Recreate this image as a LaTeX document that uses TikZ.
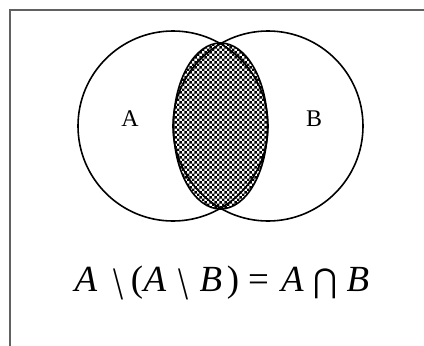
\documentclass[tikz,border=0pt]{standalone}
\usepackage{fontspec}
\setmainfont{Liberation Serif}
\newfontfamily\opfont{DejaVu Sans}
\usetikzlibrary{patterns}
\pgfdeclarepatternformonly{mychecker}{\pgfpointorigin}{\pgfqpoint{5.4bp}{5.4bp}}{\pgfqpoint{5.4bp}{5.4bp}}{%
  \pgfpathrectangle{\pgfpointorigin}{\pgfqpoint{2.7bp}{2.7bp}}%
  \pgfpathrectangle{\pgfqpoint{2.7bp}{2.7bp}}{\pgfqpoint{2.7bp}{2.7bp}}%
  \pgfusepath{fill}}
\tikzset{
  frameline/.style={draw=black!62, line width=1.6bp},
  setline/.style={draw=black, line width=1.6bp},
  lbl/.style={inner sep=0pt, anchor=base, font=\fontsize{24}{26}\selectfont},
  eqg/.style={inner sep=0pt, anchor=base, font=\fontsize{37}{40}\selectfont},
  eqs/.style={inner sep=0pt, anchor=center},
}
\begin{document}
\begin{tikzpicture}[x=1bp,y=-1bp]
\useasboundingbox (0,0) rectangle (424,346);
\fill[white] (0,0) rectangle (424,346);
\draw[frameline] (10,346) -- (10,10) -- (424,10);
\draw[setline] (173,126) circle[radius=95];
\draw[setline] (268,126) circle[radius=95];
\filldraw[setline, pattern=mychecker] (220.5,126) ellipse[x radius=47, y radius=83];
\node[lbl] (la) at (130,126) {A};
\node[lbl] (lb) at (314,126) {B};
\node[eqg] (e1) at (86,291) {\textit{A}};
\node[eqs] (e2) at (119,284) {\resizebox*{10bp}{31bp}{\textbackslash}};
\node[eqg] (e3) at (137,291) {(};
\node[eqg] (e4) at (155,291) {\textit{A}};
\node[eqs] (e5) at (184,284) {\resizebox*{10bp}{31bp}{\textbackslash}};
\node[eqg] (e6) at (211,291) {\textit{B}};
\node[eqg] (e7) at (233,291) {)};
\node[eqg] (e8) at (258.5,291) {=};
\node[eqg] (e9) at (292.5,291) {\textit{A}};
\node[eqs] (e10) at (325.5,283.5) {\resizebox*{24bp}{30bp}{\opfont ⋂}};
\node[eqg] (e11) at (358,291) {\textit{B}};
\end{tikzpicture}
\end{document}
